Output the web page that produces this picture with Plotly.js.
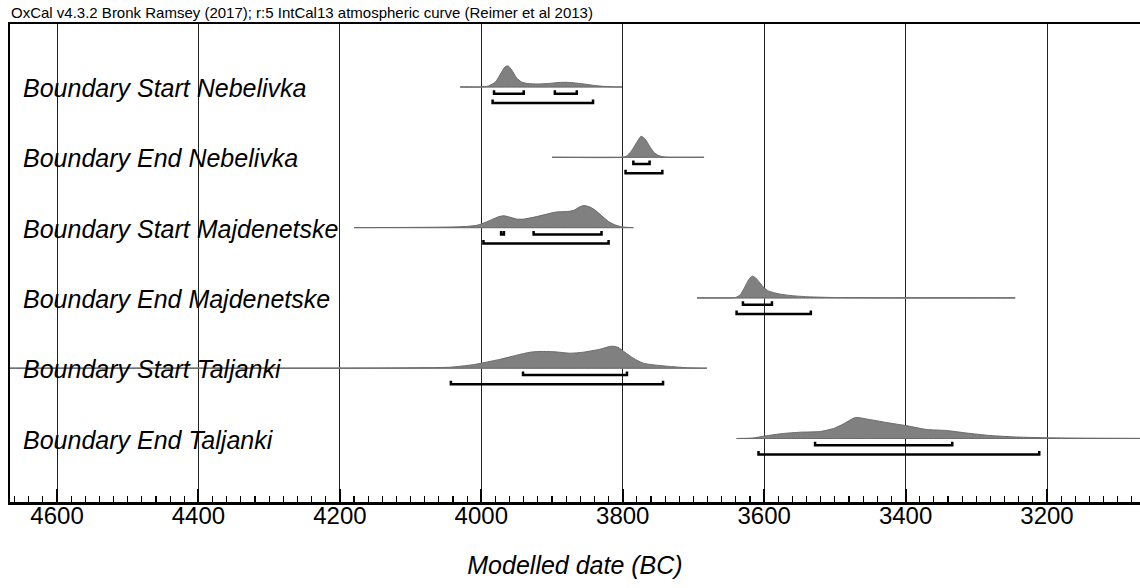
<!DOCTYPE html>
<html>
<head>
<meta charset="utf-8">
<script src="https://cdn.plot.ly/plotly-3.0.1.min.js"></script>
<style>html,body{margin:0;padding:0;background:#fff;}#chart{width:1140px;height:588px;}</style>
</head>
<body>
<div id="chart"></div>
<script>
// ---- data (years BC, density heights) ----
const rowLabels = [
  'Boundary Start Nebelivka',
  'Boundary End Nebelivka',
  'Boundary Start Majdenetske',
  'Boundary End Majdenetske',
  'Boundary Start Taljanki',
  'Boundary End Taljanki'
];

const startNebYears = [4030,4000,3990,3980,3972,3966,3962,3957,3950,3943,3935,3920,3905,3890,3880,3870,3855,3840,3825,3810,3801];
const startNebDens  = [0,0,1,5,14,20.5,21,17,9,5,3.5,3,3.5,4.5,4.7,4.2,3,1.5,0.5,0,0];

const endNebYears = [3900,3800,3795,3788,3780,3774,3768,3762,3756,3750,3743,3735,3685];
const endNebDens  = [0,0,1,6,15,21,18,11,5,2,0.5,0,0];

const startMajYears = [4180,4100,4050,4020,4005,3995,3985,3975,3968,3960,3950,3940,3925,3910,3895,3880,3870,3860,3855,3848,3840,3830,3820,3812,3803,3795,3785];
const startMajDens  = [0,0.2,0.5,1.2,2.5,5,8,11,11.8,10.5,8.5,8.5,10.5,13,15.5,16,17,21,22,21,18,12,6,3,1,0.3,0];

const endMajYears = [3695,3645,3640,3634,3628,3622,3617,3612,3606,3600,3594,3585,3575,3560,3540,3520,3495,3460,3430,3245];
const endMajDens  = [0,0,0.5,3,10,18,21.7,20,15,10,7,5,3.5,2.2,1.2,0.7,0.3,0.1,0,0];

const startTalYears = [4700,4200,4115,4044,4012,4000,3973,3950,3931,3917,3898,3874,3856,3832,3816,3807,3797,3785,3771,3752,3729,3710,3690,3681];
const startTalDens  = [0,0,0.3,1,3.5,5,9,13,16,16.7,16.5,15,16,19,22,21,16,10,5,3,1.5,0.5,0,0];

const endTalYears = [3639,3616,3599,3573,3549,3521,3502,3488,3471,3455,3427,3398,3370,3342,3314,3281,3243,3196,3149,3078,3000];
const endTalDens  = [0,0.5,2.5,5,6.3,7,10,14.5,21,19.5,16,12.7,9,8,5.5,3,1.5,0.7,0.4,0.2,0];

// highest posterior density ranges [from, to] in years BC
const range68 = [
  [[3982,3940],[3896,3865]],
  [[3785,3762]],
  [[3972,3968],[3926,3830]],
  [[3630,3589]],
  [[3941,3794]],
  [[3528,3334]]
];
const range95 = [
  [[3984,3842]],
  [[3796,3744]],
  [[3997,3820]],
  [[3639,3534]],
  [[4043,3743]],
  [[3608,3211]]
];

const tickVals = [4600,4400,4200,4000,3800,3600,3400,3200];
const tickText = ['4600','4400','4200','4000','3800','3600','3400','3200'];

// ---- drawing ----
const seriesYears = [startNebYears,endNebYears,startMajYears,endMajYears,startTalYears,endTalYears];
const seriesDens  = [startNebDens,endNebDens,startMajDens,endMajDens,startTalDens,endTalDens];

const ROWPX = 70.3;            // pixel height of one row
const DSCALE = 1 / ROWPX;      // density units -> row units
const OFF68 = 6.8 / ROWPX, OFF95 = 16 / ROWPX, TICK = 3.5 / ROWPX;
const FONT = 'Liberation Sans, Arial, Helvetica, sans-serif';

const traces = [];
const annotations = [];
const nRows = rowLabels.length;

for (let i = 0; i < nRows; i++) {
  const base = nRows - 1 - i;
  const yrs = seriesYears[i], d = seriesDens[i];
  // baseline (prior range)
  traces.push({
    x: [yrs[0], yrs[yrs.length - 1]], y: [base, base],
    mode: 'lines', line: {color: '#a8a8a8', width: 1.2},
    hoverinfo: 'skip', showlegend: false
  });
  // filled distribution
  const px = yrs.concat(yrs.slice().reverse());
  const py = d.map(v => base + v * DSCALE).concat(yrs.map(() => base));
  traces.push({
    x: px, y: py, mode: 'lines', fill: 'toself',
    fillcolor: '#808080', line: {color: '#6a6a6a', width: 1, shape: 'spline', smoothing: 0.6},
    hoverinfo: 'skip', showlegend: false
  });
  // brackets
  const bx = [], by = [];
  const addBr = (ranges, off) => {
    ranges.forEach(r => {
      const yb = base - off;
      bx.push(r[0], r[0], r[1], r[1], null);
      by.push(yb + TICK, yb, yb, yb + TICK, null);
    });
  };
  addBr(range68[i], OFF68);
  addBr(range95[i], OFF95);
  traces.push({
    x: bx, y: by, mode: 'lines', line: {color: '#000', width: 2.5},
    hoverinfo: 'skip', showlegend: false, connectgaps: false
  });
  annotations.push({
    xref: 'paper', yref: 'y', x: 0, y: base, xanchor: 'left', yanchor: 'middle',
    xshift: 11, yshift: -1, showarrow: false,
    text: rowLabels[i],
    font: {family: FONT, size: 25, color: '#000', style: 'italic'}
  });
}

annotations.push({
  xref: 'paper', yref: 'paper', x: 0, y: 1, xanchor: 'left', yanchor: 'bottom',
  xshift: -1, yshift: 1, showarrow: false,
  text: 'OxCal v4.3.2 Bronk Ramsey (2017); r:5 IntCal13 atmospheric curve (Reimer et al 2013)',
  font: {family: FONT, size: 15, color: '#000'}
});

const layout = {
  width: 1140, height: 588,
  margin: {l: 10, r: 0, t: 24, b: 86},
  paper_bgcolor: '#fff', plot_bgcolor: '#fff',
  showlegend: false,
  xaxis: {
    range: [4666.5, 3068.5],
    tickmode: 'array', tickvals: tickVals, ticktext: tickText,
    ticks: 'inside', ticklen: 13, tickwidth: 2, tickcolor: '#000',
    minor: {dtick: 20, tick0: 0, ticks: 'inside', ticklen: 6, tickwidth: 1.2, tickcolor: '#000', showgrid: false},
    showgrid: true, gridcolor: '#222', gridwidth: 1,
    showline: true, linecolor: '#000', linewidth: 2.5, mirror: true,
    zeroline: false,
    ticklabelstandoff: -9,
    tickfont: {family: FONT, size: 24, color: '#000'},
    title: {text: 'Modelled date (BC)', font: {family: FONT, size: 25, color: '#000', style: 'italic'}, standoff: 28},
    fixedrange: true
  },
  yaxis: {
    range: [-0.903, 5.896],
    showgrid: false, zeroline: false, showticklabels: false, ticks: '',
    showline: true, linecolor: '#000', linewidth: 2,
    fixedrange: true
  },
  annotations: annotations
};

Plotly.newPlot('chart', traces, layout, {displayModeBar: false, staticPlot: true});
</script>
</body>
</html>
